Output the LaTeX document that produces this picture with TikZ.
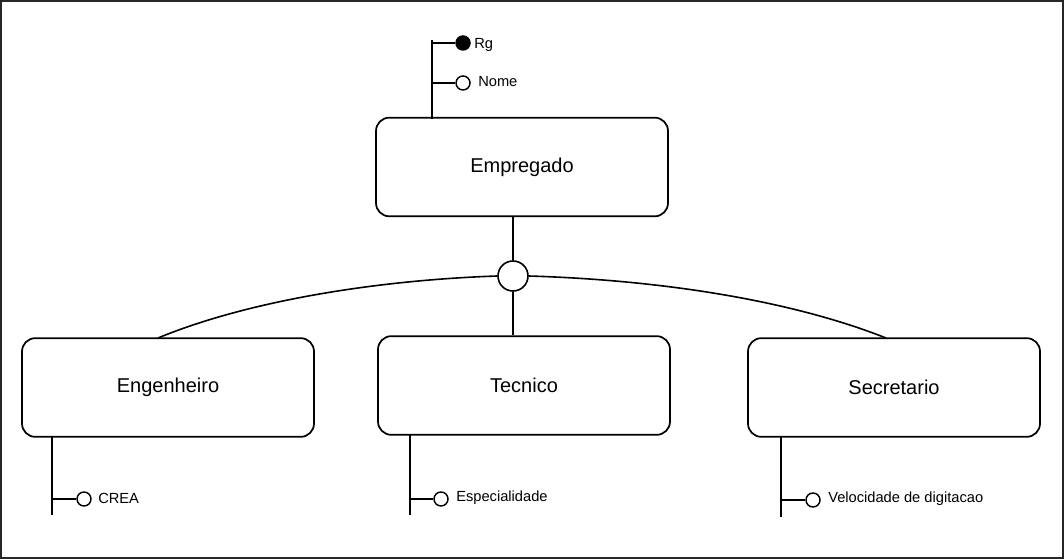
\documentclass[tikz,border=0pt]{standalone}
\usepackage{fontspec}
\setmainfont{Liberation Sans}
\begin{document}
\begin{tikzpicture}[x=0.75pt,y=-0.75pt,
  entity/.style={draw,line width=1.3pt,rounded corners=10pt,fill=white,minimum width=219pt,minimum height=74pt,inner sep=0pt,font=\fontsize{15}{17}\selectfont},
  ln/.style={line width=1.2pt},
  attr/.style={draw,circle,line width=1.1pt,minimum size=10.5pt,inner sep=0pt,fill=white},
  key/.style={attr,fill=black},
  lbl/.style={anchor=west,inner sep=0pt,font=\fontsize{11}{13}\selectfont}]
\useasboundingbox (0,0) rectangle (1064,559);
\draw[line width=1.5pt,color=black!85] (1,1) rectangle (1063,558);
% entities
\node[entity] (emp) at (522,167) {Empregado};
\node[entity] (eng) at (168,387.5) {Engenheiro};
\node[entity] (tec) at (524,385.5) {Tecnico};
\node[entity] (sec) at (894,387.5) {Secretario};
% specialization circle
\node[draw,circle,line width=1.2pt,minimum size=22.5pt,inner sep=0pt] (isa) at (513,276) {};
\draw[ln] (emp.south -| isa.north) -- (isa.north);
\draw[ln] (isa.south) -- (isa.south |- tec.north);
\coordinate (engtop) at (158,338);
\coordinate (sectop) at (886,338);
\draw[ln] (engtop) .. controls (250,300) and (380,280) .. (isa.west);
\draw[ln] (isa.east) .. controls (660,280) and (790,300) .. (sectop);
% Empregado attributes
\coordinate (et0) at (432,40);
\coordinate (et1) at (432,119);
\draw[ln] (et0) -- (et1);
\node[key] (rg) at (463,43) {};
\node[attr] (nome) at (463,83) {};
\draw[ln] (rg.west -| et0) -- (rg.west);
\draw[ln] (nome.west -| et0) -- (nome.west);
\node[lbl] (rgl) at (474,45) {Rg};
\node[lbl] (nomel) at (478,82) {Nome};
% Engenheiro attribute
\coordinate (e0) at (52,437);
\coordinate (e1) at (52,515);
\draw[ln] (e0) -- (e1);
\node[attr] (crea) at (84,499) {};
\draw[ln] (crea.west -| e0) -- (crea.west);
\node[lbl] (creal) at (98,498) {CREA};
% Tecnico attribute
\coordinate (t0) at (410,435);
\coordinate (t1) at (410,515);
\draw[ln] (t0) -- (t1);
\node[attr] (esp) at (441,499) {};
\draw[ln] (esp.west -| t0) -- (esp.west);
\node[lbl] (espl) at (456,498) {Especialidade};
% Secretario attribute
\coordinate (s0) at (781,437);
\coordinate (s1) at (781,517);
\draw[ln] (s0) -- (s1);
\node[attr] (vel) at (813,500) {};
\draw[ln] (vel.west -| s0) -- (vel.west);
\node[lbl] (vell) at (828,499) {Velocidade de digitacao};
\end{tikzpicture}
\end{document}
